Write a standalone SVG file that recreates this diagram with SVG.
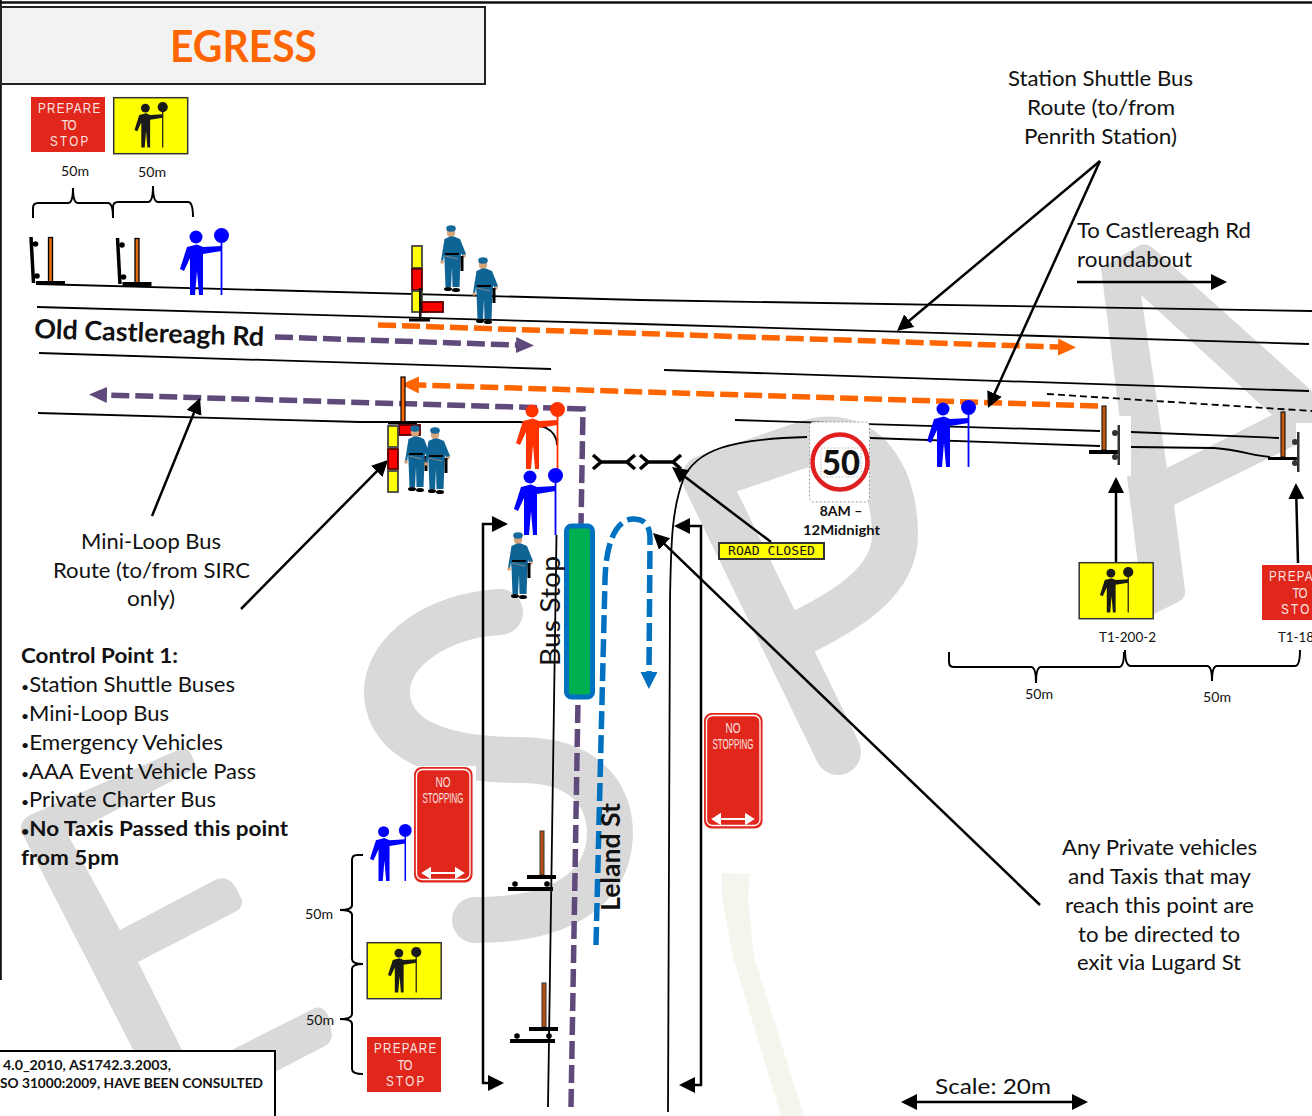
<svg xmlns="http://www.w3.org/2000/svg" width="1312" height="1116" viewBox="0 0 1312 1116">
<style>
text{font-family:Lato,"Liberation Sans",sans-serif;fill:#111}
.b{font-weight:700}
.t22{font-size:20.5px}
.t14{font-size:13.5px}
.blt{font-size:13px}
.sg{font-family:"Liberation Sans",Arial,sans-serif;fill:#f8e4e0}
.road{fill:none;stroke:#000;stroke-width:1.8}
.call{fill:none;stroke:#000;stroke-width:2.5;marker-end:url(#ah)}
.brace{fill:none;stroke:#000;stroke-width:2}
.wm{fill:none;stroke:#d9d9d9;stroke-linejoin:round}
.blue{color:#00f}.red{color:#f30}.blk{color:#1a1a1a}
.dash{fill:none;stroke-width:5.5;stroke-dasharray:18 6}
.fork{fill:none;stroke:#000;stroke-width:3.5}
.cy{fill:#ff0;stroke:#444;stroke-width:1.8}
.cr{fill:#f00;stroke:#500;stroke-width:1.8}
</style>
<defs>
<marker id="ah" markerUnits="userSpaceOnUse" markerWidth="18" markerHeight="18" refX="13" refY="8" orient="auto-start-reverse"><path d="M0 0L16 8L0 16z" fill="#000"/></marker>
<marker id="ahP" markerUnits="userSpaceOnUse" markerWidth="20" markerHeight="18" refX="0" refY="8" orient="auto"><path d="M0 0L18 8L0 16z" fill="#604a7b"/></marker>
<marker id="ahO" markerUnits="userSpaceOnUse" markerWidth="20" markerHeight="18" refX="0" refY="8.5" orient="auto"><path d="M0 0L18 8.5L0 17z" fill="#f60"/></marker>
<marker id="ahB" markerUnits="userSpaceOnUse" markerWidth="20" markerHeight="18" refX="0" refY="8.5" orient="auto"><path d="M0 0L17 8.5L0 17z" fill="#0070c0"/></marker>
<g id="man">
<circle cx="16" cy="9" r="6.5" fill="currentColor"/>
<circle cx="41.5" cy="7.5" r="7.5" fill="currentColor"/>
<path d="M41.5 7V67" stroke="currentColor" stroke-width="1.8" fill="none"/>
<path d="M7 19L17 16.5L23 19L41.5 18V23L23 26V67H19L17 43L15 67H10V30L4 43L0 41Z" fill="currentColor"/>
</g>
<g id="yellowSign">
<rect x="0.7" y="0.7" width="74" height="56" fill="#ff0" stroke="#333" stroke-width="1.5"/>
<use href="#man" class="blk" transform="translate(21.5 5) scale(.68)"/>
</g>
<g id="prepareSign">
<rect width="74" height="55" fill="#e1261c"/>
<text class="sg" transform="translate(7 16) scale(.75 1)" font-size="15.5" textLength="83" lengthAdjust="spacing">PREPARE</text>
<text class="sg" transform="translate(30.5 32.5) scale(.75 1)" font-size="15.5" textLength="20" lengthAdjust="spacing">TO</text>
<text class="sg" transform="translate(19 49) scale(.75 1)" font-size="15.5" textLength="51" lengthAdjust="spacing">STOP</text>
</g>
<g id="noStop">
<rect x="0.8" y="0.8" width="57" height="114" rx="7" fill="#e1261c" stroke="#e1261c" stroke-width="1.5"/>
<rect x="2.5" y="2.5" width="53.5" height="110" rx="6" fill="#e1261c" stroke="#fff" stroke-width="1.3"/>
<text class="sg" x="29" y="20" font-size="15" text-anchor="middle" textLength="15" lengthAdjust="spacingAndGlyphs">NO</text>
<text class="sg" x="29" y="36" font-size="15" text-anchor="middle" textLength="41" lengthAdjust="spacingAndGlyphs">STOPPING</text>
<path d="M9 106H49M9 106L16 101.5V110.5ZM49 106L42 101.5V110.5Z" stroke="#fff" stroke-width="2" fill="#fff"/>
</g>
<g id="police">
<ellipse cx="10" cy="7.5" rx="4.2" ry="5" fill="#d8a47c"/>
<ellipse cx="10" cy="3.5" rx="4.8" ry="3.3" fill="#14689c"/>
<path d="M3.500 14L9 11.5H13L19 14L25 29L22 33L20 28L19.500 36L18.500 62H11.500L11 42L10 62H4.500L3.500 36L3 30L2 37L0 36Z" fill="#0f6496"/>
<circle cx="1" cy="37" r="1.800" fill="#d8a47c"/>
<circle cx="23" cy="31" r="1.800" fill="#d8a47c"/>
<rect x="4" y="28" width="14" height="2" fill="#000"/>
<path d="M4 31L17 34" stroke="#888" stroke-width="1"/>
<rect x="19.500" y="31" width="3" height="15" fill="#000"/>
<ellipse cx="7" cy="64" rx="4" ry="2" fill="#000"/>
<ellipse cx="15" cy="65" rx="4" ry="2" fill="#000"/>
</g>
<g id="treeL">
<path d="M31 237L33.5 283" stroke="#000" stroke-width="3.500"/>
<circle cx="35.5" cy="244" r="2.800"/><circle cx="37" cy="276" r="2.800"/>
<rect x="48.5" y="237.5" width="4" height="44.5" fill="#e36c0a" stroke="#000" stroke-width="1.300"/>
<rect x="36" y="281" width="29" height="4"/>
</g>
<g id="treeB">
<rect x="-2" y="0" width="4" height="44" fill="#b4530f" stroke="#333" stroke-width="1"/>
<rect x="-15" y="44" width="29" height="4"/>
<rect x="-34" y="56" width="45" height="4"/>
<circle cx="-27" cy="53" r="2.800"/><circle cx="5" cy="53" r="2.800"/>
</g>
</defs>

<g id="watermark">
<path fill="#f3f6ec" d="M722 873L750 874L748 897L754 957L804 1116H781L733 957L722 897Z"/>
<path fill="#d9d9d9" d="M22 833Q18 822 30 815L178 750Q188 746 192 756L197 768L68 835L120 930L215 880Q228 874 236 888L242 900Q243 908 235 912L138 962L182 1050L192 1070L315 1008Q325 1005 330 1020L332 1035Q332 1042 325 1046L190 1116H167Z"/>
<path class="wm" stroke-width="46" stroke-linecap="round" d="M500 612C440 615 385 650 387 695C390 740 440 760 520 760C580 760 610 790 610 835C608 890 560 920 475 920"/>
<path class="wm" stroke-width="46" stroke-linecap="round" d="M838 752L705 478L805 444C860 425 895 470 895 535C895 580 850 610 790 638"/>
<path fill="#d9d9d9" fill-rule="evenodd" d="M1101 268L1135 248Q1146 240 1155 250L1312 391V437L1174 505L1185 590Q1186 598 1178 602L1150 616Q1145 616 1143 605ZM1141 295L1167 468L1272 415Z"/>
</g>

<g id="frame">
<path d="M0 2.5H1312" stroke="#111" stroke-width="2.5"/>
<path d="M0.8 0V980" stroke="#111" stroke-width="2"/>
</g>

<g id="title">
<rect x="1" y="7" width="484" height="77" fill="#f2f2f2" stroke="#222" stroke-width="2"/>
<text class="b" x="170" y="61.5" font-size="44" style="fill:#f60" textLength="147" lengthAdjust="spacingAndGlyphs">EGRESS</text>
</g>

<g id="roads">
<path class="road" d="M37 284L640 300L1312 311"/>
<path class="road" d="M37 307L640 324L1309 344"/>
<path class="road" d="M39 353L551 369"/>
<path class="road" d="M664 370L1309 391"/>
<path class="road" d="M1047 394L1312 411" stroke-dasharray="7 4"/>
<path class="road" d="M38 413L360 422H520C540 424 557 428 557 445M556.500 535L548 1107"/>
<path class="road" d="M735 420L1100 431M1131 432L1279 438"/>
<path class="road" d="M668 1112L670 600C671 540 672 510 683 480C695 450 730 439 807 437M870 438L1100 446M1131 447L1214 448C1240 450 1250 455 1270 457"/>
</g>

<g id="connectors">
<path class="dash" stroke="#604a7b" d="M571 1107L583 409L107 395" marker-end="url(#ahP)"/>
<path class="dash" stroke="#604a7b" d="M275 337L516 345" marker-end="url(#ahP)"/>
<path class="dash" stroke="#f60" d="M378 325L1058 347" marker-end="url(#ahO)"/>
<path class="dash" stroke="#f60" d="M1098 406L419 385" marker-end="url(#ahO)"/>
<path class="dash" stroke="#0070c0" d="M596 945L605 580C606 535 620 519 633 519C645 519 650 525 650 540L649 672" marker-end="url(#ahB)"/>
<path class="call" d="M1100 161L899.300 329"/>
<path class="call" d="M1100 161L989.200 405.300"/>
<path class="call" d="M152 516L198.900 400.800"/>
<path class="call" d="M241 609L385.900 462.100"/>
<path class="call" d="M771 542L674.400 468.800"/>
<path class="call" d="M1040 905L655.200 535.100"/>
<path class="call" d="M1116 562V480"/>
<path class="call" d="M1298 563L1296 486"/>
<path class="call" d="M1077 282H1224"/>
<path class="call" d="M904 1102H1085" marker-start="url(#ah)"/>
<path class="call" d="M505 524H483V1083H501" marker-start="url(#ah)"/>
<path class="call" d="M677 526H701V1085H682" marker-start="url(#ah)"/>
</g>

<g id="busStop">
<rect x="566.500" y="526" width="26" height="171" rx="5" fill="#00b050" stroke="#0070c0" stroke-width="5"/>
<text transform="translate(560 666) rotate(-90)" font-size="27" textLength="110" lengthAdjust="spacingAndGlyphs">Bus Stop</text>
</g>
<text id="leland" class="b" transform="translate(620 911) rotate(-90)" font-size="26" textLength="108" lengthAdjust="spacingAndGlyphs">Leland St</text>

<g id="sign-prepare-1"><use href="#prepareSign" x="31" y="97"/></g>
<g id="sign-yellow-1"><use href="#yellowSign" x="113" y="97"/></g>
<g id="sign-yellow-2"><use href="#yellowSign" x="1078.500" y="562"/></g>
<g id="sign-prepare-2"><use href="#prepareSign" x="1262" y="565"/></g>
<g id="sign-yellow-3"><use href="#yellowSign" x="366.500" y="942"/></g>
<g id="sign-prepare-3"><use href="#prepareSign" x="367" y="1037"/></g>
<g id="sign-nostop-1"><rect x="411" y="766" width="65" height="120" fill="#fff"/><use href="#noStop" x="414" y="767"/></g>
<g id="sign-nostop-2"><use href="#noStop" x="704" y="713"/></g>

<g id="tree-1"><use href="#treeL"/></g>
<g id="tree-2"><use href="#treeL" x="86.500" y="1"/></g>
<g id="tree-3">
<rect x="1118" y="416" width="13" height="60" fill="#fff"/>
<rect x="1102" y="406" width="4" height="44" fill="#c55a11" stroke="#000" stroke-width="1"/>
<rect x="1089" y="450" width="30" height="4"/>
<rect x="1117.500" y="425" width="2.500" height="40" fill="#333"/>
<circle cx="1115" cy="433" r="3" fill="#333"/><circle cx="1115" cy="457" r="3" fill="#333"/>
</g>
<g id="tree-4">
<rect x="1296" y="423" width="16" height="54" fill="#fff"/>
<rect x="1281" y="412" width="4" height="45" fill="#c55a11" stroke="#000" stroke-width="1"/>
<rect x="1268" y="457" width="29" height="3"/>
<rect x="1297" y="432" width="2.500" height="40" fill="#333"/>
<circle cx="1295" cy="442" r="3" fill="#333"/><circle cx="1295" cy="463" r="3" fill="#333"/>
</g>
<g id="tree-5"><use href="#treeB" x="542" y="831"/></g>
<g id="tree-6"><use href="#treeB" x="544" y="983"/></g>

<g id="closure-1"><path class="fork" d="M600 462H628M593 455L601 462L593 469M635 455L627 462L635 469"/></g>
<g id="closure-2"><path class="fork" d="M647 462H674M640 455L648 462L640 469M681 455L673 462L681 469"/></g>

<g id="board-1">
<rect class="cy" x="412" y="246" width="10" height="22"/>
<rect class="cr" x="412" y="269" width="10" height="21"/>
<rect class="cy" x="412" y="291" width="10" height="21"/>
<rect class="cr" x="422" y="302" width="21" height="10"/>
<rect x="419" y="288" width="2.500" height="32" fill="#111"/>
<rect x="409" y="318.500" width="21" height="3" fill="#000"/>
</g>
<g id="board-2">
<rect x="401" y="377" width="4" height="45" fill="#f60" stroke="#000" stroke-width="1.200"/>
<rect x="388" y="421" width="29" height="3.500" fill="#000"/>
<rect class="cr" x="399" y="425" width="21" height="10"/>
<rect class="cy" x="388" y="426" width="10" height="21"/>
<rect class="cr" x="388" y="449" width="10" height="20"/>
<rect class="cy" x="388" y="471" width="10" height="21"/>
</g>

<g id="police-1"><use href="#police" x="441" y="225"/></g>
<g id="police-2"><use href="#police" x="473" y="257"/></g>
<g id="police-3"><use href="#police" x="405" y="425"/></g>
<g id="police-4"><use href="#police" x="425" y="427"/></g>
<g id="police-5"><use href="#police" x="508" y="532"/></g>

<g id="controller-1"><use href="#man" class="blue" transform="translate(180 228)"/></g>
<g id="controller-2"><use href="#man" class="blue" transform="translate(927 400)"/></g>
<g id="controller-3"><use href="#man" class="red" transform="translate(516 402)"/></g>
<g id="controller-4"><use href="#man" class="blue" transform="translate(514 468)"/></g>
<g id="controller-5"><use href="#man" class="blue" transform="translate(370 824) scale(.85)"/></g>

<g id="speed-50">
<rect x="809.500" y="422" width="60" height="80" rx="4" fill="#fff" stroke="#888" stroke-width=".8" stroke-dasharray="2 2"/>
<circle cx="840" cy="462" r="27.500" fill="#fff" stroke="#e02020" stroke-width="4.500"/>
<rect x="821" y="448" width="40" height="29" fill="none" stroke="#bbb" stroke-width="1" stroke-dasharray="1.500 1.500"/>
<text x="822" y="474.500" font-size="34" font-weight="900" textLength="38" lengthAdjust="spacingAndGlyphs">50</text>
<text class="b" x="841" y="516" font-size="14" text-anchor="middle">8AM –</text>
<text class="b" x="841.500" y="535" font-size="14" text-anchor="middle" textLength="77" lengthAdjust="spacingAndGlyphs">12Midnight</text>
</g>

<g id="road-closed">
<rect x="719" y="543" width="105" height="16" fill="#ff0" stroke="#333" stroke-width="2"/>
<text x="728" y="555" font-size="11.500" style="font-family:'DejaVu Sans Mono','Liberation Mono',monospace" textLength="87" lengthAdjust="spacingAndGlyphs">ROAD CLOSED</text>
</g>

<g id="braces">
<path class="brace" d="M33 218V208Q33 203 38 203H68Q73 203 73 188Q73 203 78 203H108Q113 203 113 218"/>
<path class="brace" d="M113 218V207Q113 202 118 202H148Q153 202 153 186Q153 202 158 202H188Q193 202 193 217"/>
<path class="brace" d="M949 652V662Q949 667 954 667H1031Q1036 667 1036 683Q1036 667 1041 667H1119Q1124 667 1124 652"/>
<path class="brace" d="M1125 650Q1125 666 1131 666H1207Q1212 666 1212 681Q1212 666 1217 666H1295Q1300 666 1300 650"/>
<path class="brace" d="M363 855H357Q352 855 352 860V905Q352 910 340 910Q352 910 352 915V959Q352 964 363 964"/>
<path class="brace" d="M363 964Q352 964 352 969V1014Q352 1019 340 1019Q352 1019 352 1024V1069Q352 1074 363 1074"/>
</g>

<g id="labels">
<text class="t14" x="61" y="176" textLength="28" lengthAdjust="spacingAndGlyphs">50m</text>
<text class="t14" x="138" y="177" textLength="28" lengthAdjust="spacingAndGlyphs">50m</text>
<text class="t14" x="1025" y="699" textLength="28" lengthAdjust="spacingAndGlyphs">50m</text>
<text class="t14" x="1203" y="702" textLength="28" lengthAdjust="spacingAndGlyphs">50m</text>
<text class="t14" x="305" y="919" textLength="28" lengthAdjust="spacingAndGlyphs">50m</text>
<text class="t14" x="306" y="1025" textLength="28" lengthAdjust="spacingAndGlyphs">50m</text>
<text class="t14" x="1099" y="642" textLength="57" lengthAdjust="spacingAndGlyphs">T1-200-2</text>
<text class="t14" x="1278" y="642" textLength="36" lengthAdjust="spacingAndGlyphs">T1-18</text>

<text class="t22" x="1008" y="86" textLength="185" lengthAdjust="spacingAndGlyphs">Station Shuttle Bus</text>
<text class="t22" x="1027" y="115" textLength="148" lengthAdjust="spacingAndGlyphs">Route (to/from</text>
<text class="t22" x="1024" y="144" textLength="153" lengthAdjust="spacingAndGlyphs">Penrith Station)</text>
<text class="t22" x="1077" y="238" textLength="174" lengthAdjust="spacingAndGlyphs">To Castlereagh Rd</text>
<text class="t22" x="1077" y="267" textLength="115" lengthAdjust="spacingAndGlyphs">roundabout</text>
<text class="b" transform="translate(34 338) rotate(2)" font-size="26.500" textLength="230" lengthAdjust="spacingAndGlyphs">Old Castlereagh Rd</text>
<text class="t22" x="81" y="549" textLength="140" lengthAdjust="spacingAndGlyphs">Mini-Loop Bus</text>
<text class="t22" x="53" y="578" textLength="197" lengthAdjust="spacingAndGlyphs">Route (to/from SIRC</text>
<text class="t22" x="127" y="606" textLength="48" lengthAdjust="spacingAndGlyphs">only)</text>
<text class="t22 b" x="21" y="663" textLength="157" lengthAdjust="spacingAndGlyphs">Control Point 1:</text>
<text class="t22" x="21" y="692" textLength="214" lengthAdjust="spacingAndGlyphs"><tspan class="blt">•</tspan>Station Shuttle Buses</text>
<text class="t22" x="21" y="721" textLength="148" lengthAdjust="spacingAndGlyphs"><tspan class="blt">•</tspan>Mini-Loop Bus</text>
<text class="t22" x="21" y="750" textLength="202" lengthAdjust="spacingAndGlyphs"><tspan class="blt">•</tspan>Emergency Vehicles</text>
<text class="t22" x="21" y="779" textLength="235" lengthAdjust="spacingAndGlyphs"><tspan class="blt">•</tspan>AAA Event Vehicle Pass</text>
<text class="t22" x="21" y="807" textLength="195" lengthAdjust="spacingAndGlyphs"><tspan class="blt">•</tspan>Private Charter Bus</text>
<text class="t22 b" x="21" y="836" textLength="267" lengthAdjust="spacingAndGlyphs"><tspan class="blt">•</tspan>No Taxis Passed this point</text>
<text class="t22 b" x="21" y="865" textLength="98" lengthAdjust="spacingAndGlyphs">from 5pm</text>
<text class="t22" x="1062" y="855" textLength="195" lengthAdjust="spacingAndGlyphs">Any Private vehicles</text>
<text class="t22" x="1068" y="884" textLength="183" lengthAdjust="spacingAndGlyphs">and Taxis that may</text>
<text class="t22" x="1065" y="913" textLength="189" lengthAdjust="spacingAndGlyphs">reach this point are</text>
<text class="t22" x="1078" y="942" textLength="162" lengthAdjust="spacingAndGlyphs">to be directed to</text>
<text class="t22" x="1077" y="970" textLength="164" lengthAdjust="spacingAndGlyphs">exit via Lugard St</text>
<text class="t22" x="935" y="1094" textLength="116" lengthAdjust="spacingAndGlyphs">Scale: 20m</text>
</g>

<g id="footer">
<rect x="-3" y="1051" width="278" height="70" fill="#fff" stroke="#000" stroke-width="2"/>
<text class="b" x="3" y="1070" font-size="13" textLength="168" lengthAdjust="spacingAndGlyphs">4.0_2010, AS1742.3.2003,</text>
<text class="b" x="0" y="1088" font-size="13" textLength="263" lengthAdjust="spacingAndGlyphs">SO 31000:2009, HAVE BEEN CONSULTED</text>
</g>
</svg>
